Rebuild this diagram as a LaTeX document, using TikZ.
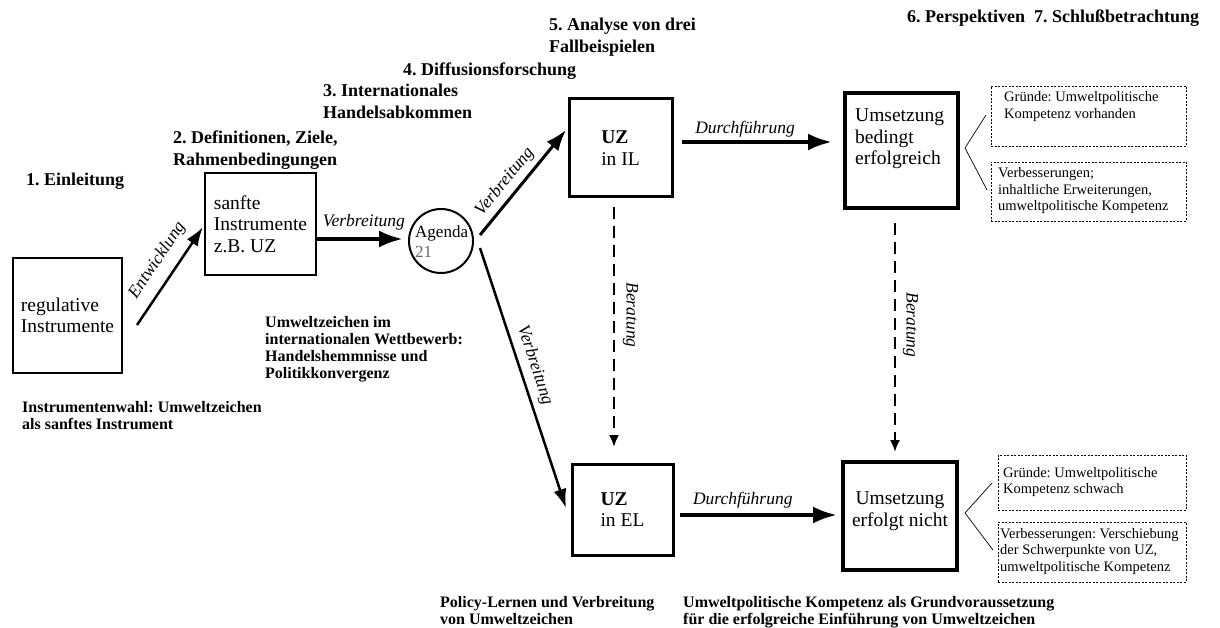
\documentclass[tikz,border=0pt]{standalone}
\usepackage{fontspec}
\setmainfont{Liberation Serif}
\usetikzlibrary{arrows.meta}
\frenchspacing
\newcommand\dgBox{\fontsize{19.5}{21.5}\selectfont}
\newcommand\dgHead{\fontsize{18}{21.5}\selectfont\bfseries}
\newcommand\dgCap{\fontsize{16}{17}\selectfont\bfseries}
\newcommand\dgNote{\fontsize{14.5}{16.5}\selectfont}
\newcommand\dgArr{\fontsize{17.5}{20}\selectfont\itshape}
\newcommand\dgAg{\fontsize{17}{20}\selectfont}
\begin{document}
\begin{tikzpicture}[x=1pt,y=-1pt,
  mainbox/.style={draw, line width=2.5pt, inner sep=0pt, align=left, font=\dgBox},
  notebox/.style={draw, line width=0.8pt, dash pattern=on 2pt off 1.5pt, inner sep=0pt},
  txt/.style={anchor=base west, inner sep=0pt, align=left},
  head/.style={txt, font=\dgHead},
  capt/.style={txt, font=\dgCap},
  note/.style={txt, font=\dgNote},
  lbl/.style={font=\dgArr, inner sep=2pt},
  thinln/.style={line width=0.7pt},
  arrA/.style={line width=2.5pt, -{Latex[length=19pt,width=13pt]}},
  arrB/.style={line width=4pt, -{Latex[length=24pt,width=17pt]}},
  arrC/.style={line width=3pt, -{Latex[length=21pt,width=15pt]}},
  dashar/.style={line width=2pt, dash pattern=on 12pt off 7pt, -{Latex[length=12pt,width=10pt]}}
]
\useasboundingbox (0,0) rectangle (1220,628);

% main boxes
\node[mainbox, minimum width=109pt, minimum height=115pt] (reg) at (67.5,315.5) {regulative\\Instrumente};
\node[mainbox, minimum width=111pt, minimum height=102pt] (sanft) at (260.5,224) {sanfte\\Instrumente\\z.B. UZ};
\node[circle, draw, line width=2pt, minimum size=64pt, inner sep=0pt] (ag) at (441,241) {};
\node[txt, font=\dgAg] (agt) at (415,258) {Agenda\\\textcolor{black!60}{21}};
\node[mainbox, line width=3pt, minimum width=103pt, minimum height=98pt] (il) at (620.5,148) {\textbf{UZ}\\in IL};
\node[mainbox, line width=3pt, minimum width=101pt, minimum height=91pt] (el) at (622.5,509.5) {\textbf{UZ}\\in EL};
\node[mainbox, line width=3.5pt, minimum width=113pt, minimum height=115pt] (us1) at (901.5,150.5) {};
\node[txt, font=\dgBox] (us1t) at (855,165) {Umsetzung\\bedingt\\erfolgreich};
\node[mainbox, line width=3.5pt, minimum width=114pt, minimum height=108pt] (us2) at (900,516) {};
\node[font=\dgBox, align=center, inner sep=0pt] (us2t) at (900,511) {Umsetzung\\erfolgt nicht};

% note boxes
\node[notebox, minimum width=195pt, minimum height=60pt] (g1) at (1088.5,116) {};
\node[note] (g1t) at (1004,118.5) {Gründe: Umweltpolitische\\Kompetenz vorhanden};
\node[notebox, minimum width=195pt, minimum height=59pt] (v1) at (1088.5,191.5) {};
\node[note] (v1t) at (998,211) {Verbesserungen;\\inhaltliche Erweiterungen,\\umweltpolitische Kompetenz};
\node[notebox, minimum width=188pt, minimum height=55pt] (g2) at (1092,482.5) {};
\node[note] (g2t) at (1003,493.5) {Gründe: Umweltpolitische\\Kompetenz schwach};
\node[notebox, minimum width=188pt, minimum height=60pt] (v2) at (1092,552) {};
\node[note] (v2t) at (1000,571) {Verbesserungen: Verschiebung\\der Schwerpunkte von UZ,\\umweltpolitische Kompetenz};

% headings
\node[head] (h1) at (26,186) {1. Einleitung};
\node[head] (h2) at (173,165.5) {2. Definitionen, Ziele,\\Rahmenbedingungen};
\node[head] (h3) at (323,118.5) {3. Internationales\\Handelsabkommen};
\node[head] (h4) at (403,76) {4. Diffusionsforschung};
\node[head] (h5) at (549,52.5) {5. Analyse von drei\\Fallbeispielen};
\node[head] (h6) at (907,23) {6. Perspektiven\hspace{0.5em}7. Schlußbetrachtung};

% captions
\node[capt] (c1) at (265,378.5) {Umweltzeichen im\\internationalen Wettbewerb:\\Handelshemmnisse und\\Politikkonvergenz};
\node[capt] (c2) at (22,429.5) {Instrumentenwahl: Umweltzeichen\\als sanftes Instrument};
\node[capt] (c3) at (440,624.5) {Policy-Lernen und Verbreitung\\von Umweltzeichen};
\node[capt] (c4) at (683,624.5) {Umweltpolitische Kompetenz als Grundvoraussetzung\\für die erfolgreiche Einführung von Umweltzeichen};

% connector end points
\coordinate (e1) at (137,325);   \coordinate (e2) at (203,227);
\coordinate (b1) at (316,239);   \coordinate (b2) at (403,239);
\coordinate (u1) at (480,235);   \coordinate (u2) at (566,130);
\coordinate (w1) at (480,248);   \coordinate (w2) at (566,508);
\coordinate (d1) at (682,142);   \coordinate (d2) at (832,142);
\coordinate (f1) at (680,515);   \coordinate (f2) at (837,515);
\coordinate (r1) at (614,207);   \coordinate (r2) at (614,447);
\coordinate (s1) at (895,223);   \coordinate (s2) at (895,452);
\coordinate (k1) at (965,148);   \coordinate (k1a) at (986,115);  \coordinate (k1b) at (987,190);
\coordinate (k2) at (965,513);   \coordinate (k2a) at (992,483);  \coordinate (k2b) at (993,550);

% connectors
\draw[arrA] (e1) -- node[lbl, sloped, above=8pt, pos=0.55] (le) {Entwicklung} (e2);
\draw[arrB] (b1) -- node[lbl, above=5pt, pos=0.55] (lb) {Verbreitung} (b2);
\draw[arrC] (u1) -- node[lbl, sloped, above=3pt, pos=0.42] (lu) {Verbreitung} (u2);
\draw[arrA] (w1) -- node[lbl, sloped, above=4pt, pos=0.47] (lw) {Verbreitung} (w2);
\draw[arrB] (d1) -- node[lbl, above=1pt, pos=0.42] (ld) {Durchführung} (d2);
\draw[arrB] (f1) -- node[lbl, above=3pt, pos=0.40] (lf) {Durchführung} (f2);
\draw[dashar] (r1) -- node[lbl, sloped, above=6pt, pos=0.45] (lr) {Beratung} (r2);
\draw[dashar] (s1) -- node[lbl, sloped, above=5pt, pos=0.445] (ls) {Beratung} (s2);
\draw[thinln] (k1a) -- (k1) -- (k1b);
\draw[thinln] (k2a) -- (k2) -- (k2b);
\end{tikzpicture}
\end{document}
